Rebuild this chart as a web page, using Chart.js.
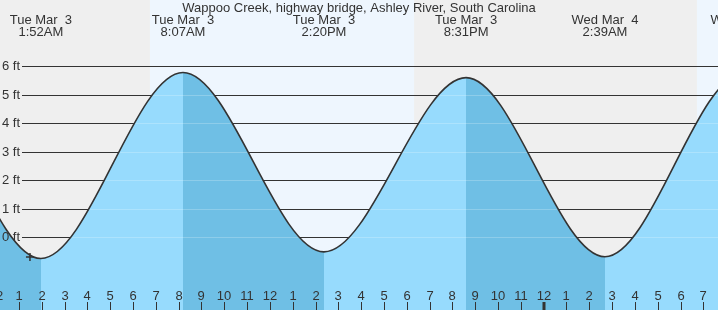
<!DOCTYPE html>
<html>
<head>
<meta charset="utf-8">
<title>Wappoo Creek tide</title>
<script src="https://cdn.jsdelivr.net/npm/chart.js@4.4.1/dist/chart.umd.min.js"></script>
<style>
    html, body { margin: 0; padding: 0; background: #efefef; }
    canvas { display: block; }
</style>
</head>
<body>
<canvas id="tideChart" width="718" height="310"></canvas>
<script>
// hours counted from midnight Tue Mar 3
const tideHours = [-10.3, -4.1, 1.96, 8.19, 14.37, 20.60, 26.69, 32.78, 38.9];
const tideFeet = [-0.6, 5.7, -0.74, 5.77, -0.51, 5.59, -0.68, 5.75, -0.6];

const labelHours = [1.96, 8.19, 14.37, 20.60, 26.69, 32.78];
const labelDays = ['Tue Mar  3', 'Tue Mar  3', 'Tue Mar  3', 'Tue Mar  3', 'Wed Mar  4', 'Wed Mar  4'];
const labelTimes = ['1:52AM', '8:07AM', '2:20PM', '8:31PM', '2:39AM', '8:45AM'];

const sunriseHours = [6.74, 30.72];
const sunsetHours = [18.32, 42.3];

const hourTicks = [0, 1, 2, 3, 4, 5, 6, 7, 8, 9, 10, 11, 12, 13, 14, 15, 16, 17, 18, 19, 20, 21, 22, 23, 24, 25, 26, 27, 28, 29, 30, 31];
const hourLabels = ['12', '1', '2', '3', '4', '5', '6', '7', '8', '9', '10', '11', '12', '1', '2', '3', '4', '5', '6', '7', '8', '9', '10', '11', '12', '1', '2', '3', '4', '5', '6', '7'];

const feetTicks = [0, 1, 2, 3, 4, 5, 6];
const feetLabels = ['0 ft', '1 ft', '2 ft', '3 ft', '4 ft', '5 ft', '6 ft'];

const nowHour = [1.48];
const nowFeet = [-0.69];

const title = 'Wappoo Creek, highway bridge, Ashley River, South Carolina';

const nightColor = '#efefef';
const dayColor = '#eef6fe';
const lightFill = '#97dbfd';
const darkFill = '#6fbfe5';
const inkColor = '#333333';
const font = '13px "Liberation Sans", Arial, sans-serif';

function fillGradient(context) {
    const chart = context.chart;
    const area = chart.chartArea;
    const xs = chart.scales.x;
    if (!area || !xs) return lightFill;
    const w = area.right - area.left;
    const clamp = v => Math.min(1, Math.max(0, v));
    const g = chart.ctx.createLinearGradient(area.left, 0, area.right, 0);
    for (let i = 0; i < tideHours.length - 1; i++) {
        // falling tide is darker
        const c = tideFeet[i + 1] < tideFeet[i] ? darkFill : lightFill;
        g.addColorStop(clamp((xs.getPixelForValue(tideHours[i]) - area.left) / w), c);
        g.addColorStop(clamp((xs.getPixelForValue(tideHours[i + 1]) - area.left) / w), c);
    }
    return g;
}

const tideDecor = {
    id: 'tideDecor',
    beforeDraw(chart) {
        const ctx = chart.ctx;
        const xs = chart.scales.x, ys = chart.scales.y;
        const right = chart.chartArea.right;
        ctx.save();
        ctx.fillStyle = nightColor;
        ctx.fillRect(0, 0, chart.width, chart.height);
        ctx.fillStyle = dayColor;
        for (let i = 0; i < sunriseHours.length; i++) {
            const x0 = xs.getPixelForValue(sunriseHours[i]);
            const x1 = xs.getPixelForValue(sunsetHours[i]);
            ctx.fillRect(x0, 0, x1 - x0, chart.height);
        }

        ctx.fillStyle = inkColor;
        ctx.font = font;
        ctx.textAlign = 'center';
        ctx.textBaseline = 'middle';
        ctx.fillText(title, chart.width / 2, 8);
        for (let i = 0; i < labelHours.length; i++) {
            const px = xs.getPixelForValue(labelHours[i]);
            ctx.fillText(labelDays[i], px, 20);
            ctx.fillText(labelTimes[i], px, 32);
        }

        // grid lines
        ctx.strokeStyle = inkColor;
        ctx.lineWidth = 1;
        for (let i = 0; i < feetTicks.length; i++) {
            const py = Math.round(ys.getPixelForValue(feetTicks[i])) + 0.5;
            ctx.beginPath();
            ctx.moveTo(22, py);
            ctx.lineTo(right, py);
            ctx.stroke();
        }
        ctx.restore();
    },
    beforeDatasetDraw(chart, args) {
        if (args.index !== 0) return;
        // lighter grid lines under the water
        const ctx = chart.ctx;
        const ys = chart.scales.y;
        const {right, bottom} = chart.chartArea;
        const line = args.meta.dataset;
        const pts = args.meta.data;
        ctx.save();
        try {
            if (line.updateControlPoints) line.updateControlPoints(chart.chartArea, 'x');
            ctx.beginPath();
            line.path(ctx);
            ctx.lineTo(pts[pts.length - 1].x, bottom + 5);
            ctx.lineTo(pts[0].x, bottom + 5);
            ctx.closePath();
            ctx.clip();
            ctx.strokeStyle = 'rgba(255,255,255,0.22)';
            ctx.lineWidth = 1;
            for (let i = 0; i < feetTicks.length; i++) {
                const py = Math.round(ys.getPixelForValue(feetTicks[i])) + 0.5;
                ctx.beginPath();
                ctx.moveTo(22, py);
                ctx.lineTo(right, py);
                ctx.stroke();
            }
        } catch (e) {
            console.log(e);
        }
        ctx.restore();
    },
    afterDatasetsDraw(chart) {
        const ctx = chart.ctx;
        const xs = chart.scales.x, ys = chart.scales.y;
        const bottom = chart.chartArea.bottom;
        ctx.save();
        ctx.fillStyle = inkColor;
        ctx.strokeStyle = inkColor;
        ctx.font = font;
        ctx.textBaseline = 'middle';
        ctx.textAlign = 'left';
        for (let i = 0; i < feetTicks.length; i++) {
            ctx.fillText(feetLabels[i], 2, Math.round(ys.getPixelForValue(feetTicks[i])) + 0.5);
        }
        ctx.textAlign = 'center';
        for (let i = 0; i < hourTicks.length; i++) {
            const px = Math.round(xs.getPixelForValue(hourTicks[i]));
            ctx.fillText(hourLabels[i], px, 296);
            const midnight = hourTicks[i] % 24 === 0;
            ctx.lineWidth = midnight ? 3 : 1;
            ctx.beginPath();
            ctx.moveTo(midnight ? px : px + 0.5, 302);
            ctx.lineTo(midnight ? px : px + 0.5, bottom);
            ctx.stroke();
        }
        ctx.restore();
    }
};

const ctx = document.getElementById('tideChart');
const tideChart = new Chart(ctx, {
    type: 'line',
    data: {
        datasets: [{
            label: 'Tide',
            data: tideHours.map((h, i) => ({x: h, y: tideFeet[i]})),
            borderColor: inkColor,
            borderWidth: 1.6,
            backgroundColor: fillGradient,
            fill: 'start',
            cubicInterpolationMode: 'monotone',
            pointRadius: 0,
            order: 1
        }, {
            label: 'Now',
            data: nowHour.map((h, i) => ({x: h, y: nowFeet[i]})),
            showLine: false,
            pointStyle: 'cross',
            pointRadius: 4,
            borderColor: inkColor,
            borderWidth: 1.5,
            fill: false,
            order: 0
        }]
    },
    options: {
        responsive: false,
        animation: false,
        devicePixelRatio: 1,
        layout: { padding: 0, autoPadding: false },
        plugins: {
            legend: { display: false },
            tooltip: { enabled: false }
        },
        scales: {
            x: { type: 'linear', display: false, min: 0.1666, max: 31.644 },
            y: { type: 'linear', display: false, min: -2.546, max: 8.31 }
        }
    },
    plugins: [tideDecor]
});
</script>
</body>
</html>
